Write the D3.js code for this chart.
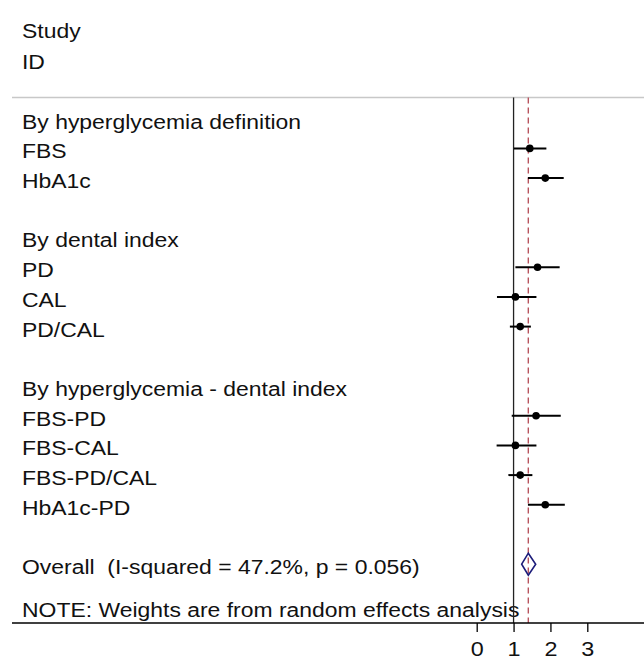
<!DOCTYPE html>
<html>
<head>
<meta charset="utf-8">
<script src="https://cdn.jsdelivr.net/npm/d3@7"></script>
<style>
  body { margin: 0; background: #fff; }
  text { font-family: "Liberation Sans", Arial, sans-serif; fill: #111; white-space: pre; }
</style>
</head>
<body>
<div class="chart"></div>
<script>
// row labels, top to bottom ("" = blank row)
var rowLabels = ["By hyperglycemia definition", "FBS", "HbA1c", "",
    "By dental index", "PD", "CAL", "PD/CAL", "",
    "By hyperglycemia - dental index", "FBS-PD", "FBS-CAL", "FBS-PD/CAL", "HbA1c-PD", "",
    "Overall  (I-squared = 47.2%, p = 0.056)"];

// estimates per study (row = index into rowLabels)
var studyRows = [1, 2, 5, 6, 7, 10, 11, 12, 13];
var estimates = [1.44, 1.86, 1.65, 1.05, 1.18, 1.61, 1.05, 1.18, 1.86];
var lowerCI   = [1.01, 1.39, 1.05, 0.55, 0.90, 0.95, 0.54, 0.86, 1.39];
var upperCI   = [1.89, 2.36, 2.25, 1.62, 1.47, 2.28, 1.62, 1.51, 2.39];

var overall = {row: 15, est: 1.40, lo: 1.22, hi: 1.60};
var tickVals = [0, 1, 2, 3];
var headerLabels = ["Study", "ID"];
var noteText = "NOTE: Weights are from random effects analysis";

var width = 644, height = 667;
var svg = d3.select(".chart").append("svg")
    .attr("width", width)
    .attr("height", height);

var x = d3.scaleLinear().domain([0, 3]).range([476.7, 587.3]);
var y = d3.scaleLinear().domain([0, 1]).range([118.7, 148.4]);

var plotTop = 97.5, plotBottom = 623;
var stretch = 1.17; // text in the original is a bit wide

// text block
var labels = svg.append("g")
    .attr("transform", "translate(22,0) scale(" + stretch + ",1)")
    .attr("font-size", "19.6px");

labels.selectAll("text.head")
    .data(headerLabels)
    .join("text")
    .attr("class", "head")
    .attr("y", (d, i) => 38 + i * 31)
    .text(d => d);

labels.selectAll("text.row")
    .data(rowLabels)
    .join("text")
    .attr("class", "row")
    .attr("y", (d, i) => y(i) + 10)
    .text(d => d);

labels.append("text").attr("y", 617).text(noteText);

svg.append("line")
    .attr("x1", 12).attr("x2", width)
    .attr("y1", plotTop).attr("y2", plotTop)
    .attr("stroke", "#c8c8c8").attr("stroke-width", 1.5);

// null line
svg.append("line")
    .attr("x1", x(1)).attr("x2", x(1))
    .attr("y1", plotTop).attr("y2", plotBottom)
    .attr("stroke", "#222").attr("stroke-width", 1.3);

// overall effect line
svg.append("line")
    .attr("x1", x(overall.est)).attr("x2", x(overall.est))
    .attr("y1", plotTop).attr("y2", plotBottom)
    .attr("stroke", "#b8545e").attr("stroke-width", 1.4)
    .attr("stroke-dasharray", "6,4");

var studies = studyRows.map((r, i) => ({row: r, est: estimates[i], lo: lowerCI[i], hi: upperCI[i]}));

svg.append("g").selectAll("line")
    .data(studies)
    .join("line")
    .attr("x1", d => x(d.lo)).attr("x2", d => x(d.hi))
    .attr("y1", d => y(d.row)).attr("y2", d => y(d.row))
    .attr("stroke", "#000").attr("stroke-width", 2);

svg.append("g").selectAll("circle")
    .data(studies)
    .join("circle")
    .attr("cx", d => x(d.est))
    .attr("cy", d => y(d.row))
    .attr("r", 3.8)
    .attr("fill", "#000");

// overall diamond
var oy = y(overall.row);
svg.append("path")
    .attr("d", "M" + x(overall.lo) + "," + oy +
               "L" + x(overall.est) + "," + (oy - 11) +
               "L" + x(overall.hi) + "," + oy +
               "L" + x(overall.est) + "," + (oy + 11) + "Z")
    .attr("fill", "none")
    .attr("stroke", "#1c1c7a")
    .attr("stroke-width", 1.6);

// x axis
svg.append("line")
    .attr("x1", 12).attr("x2", width)
    .attr("y1", plotBottom).attr("y2", plotBottom)
    .attr("stroke", "#000").attr("stroke-width", 1.3);

var axis = svg.append("g")
    .attr("transform", "translate(0," + plotBottom + ")")
    .call(d3.axisBottom(x).tickValues(tickVals).tickSize(9).tickPadding(10).tickFormat(d3.format("d")));
axis.select(".domain").remove();
axis.selectAll(".tick line").attr("stroke", "#000").attr("stroke-width", 1.3);
axis.selectAll(".tick text")
    .attr("font-size", "20px")
    .attr("font-family", "'Liberation Sans', Arial, sans-serif")
    .attr("fill", "#111")
    .attr("transform", "scale(" + stretch + ",1)");
</script>
</body>
</html>
